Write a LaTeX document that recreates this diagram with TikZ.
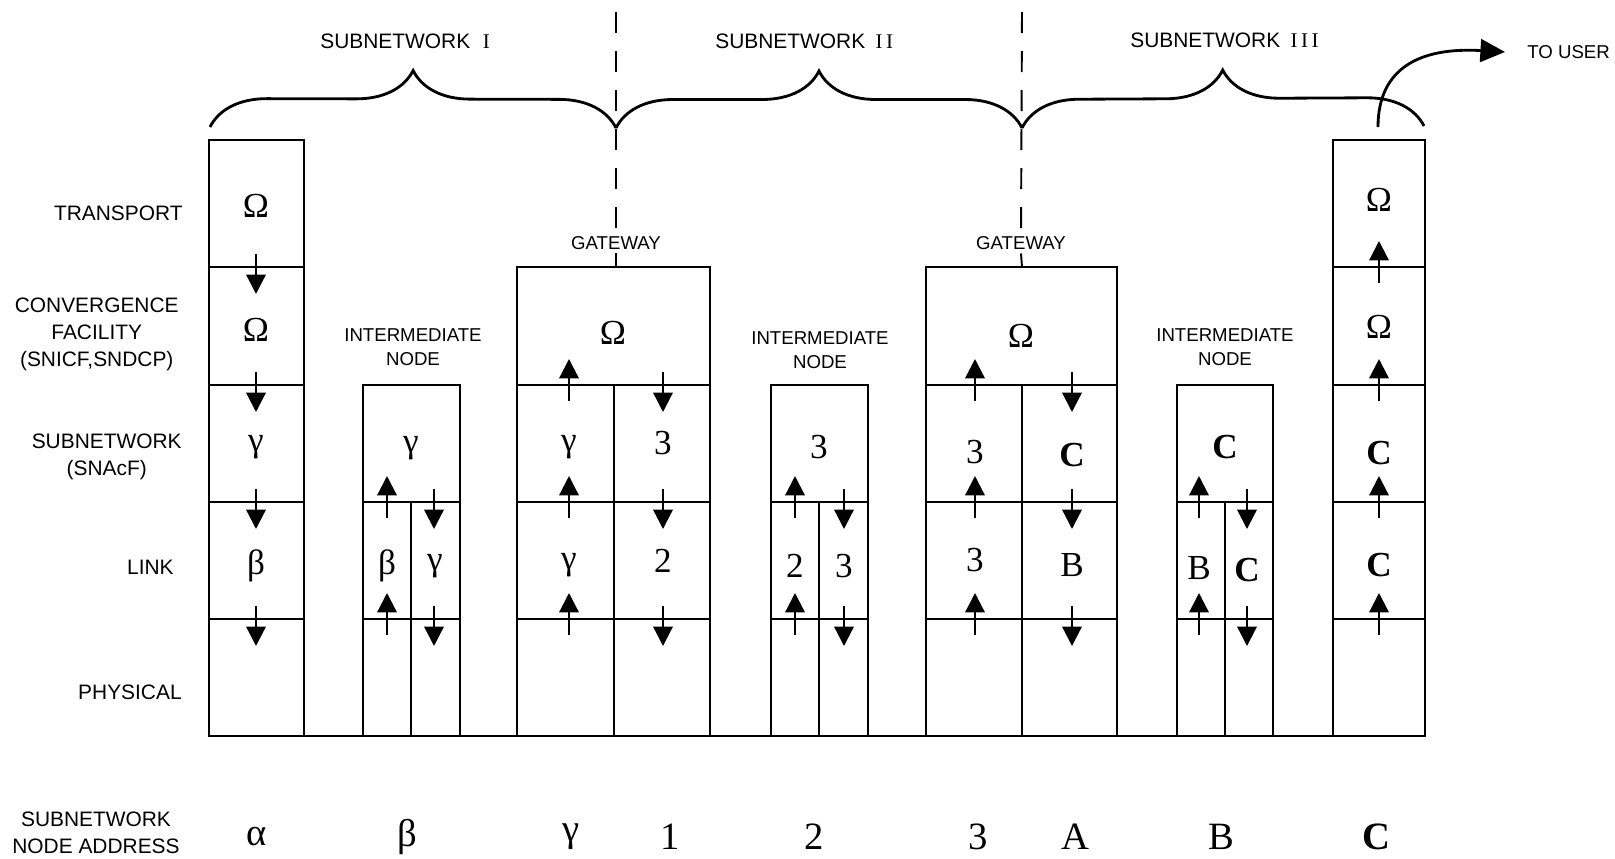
\documentclass[tikz,border=0pt]{standalone}
\usepackage{fontspec}
\setmainfont{Liberation Serif}
\setsansfont{Liberation Sans}
\usepackage{tikz}
\usetikzlibrary{arrows.meta, decorations.pathreplacing, positioning}

\begin{document}
\begin{tikzpicture}[x=0.2mm, y=-0.2mm,
    box/.style={line width=1.6pt},
    sym/.style={font=\fontsize{20}{24}\selectfont},
    addr/.style={font=\fontsize{22}{26}\selectfont},
    lyr/.style={font=\sffamily\fontsize{11.9}{15.3}\selectfont, align=center, anchor=east, inner sep=0pt},
    tag/.style={font=\sffamily\fontsize{10.6}{13.6}\selectfont, align=center, inner sep=0pt},
    arr/.style={line width=1.3pt, -{Triangle[length=11pt, width=11pt]}},
    brc/.style={line width=1.6pt, decorate, decoration={brace, amplitude=11.4mm}},
    sep/.style={line width=1.1pt, dash pattern=on 4.2mm off 3.6mm}]
  \useasboundingbox (0,0) rectangle (1615,858);

  \node[lyr] (lTr) at (183,213) {TRANSPORT};
  \node[lyr] (lCf) at (179,334) {CONVERGENCE\\FACILITY\\(SNICF,SNDCP)};
  \node[lyr] (lSn) at (182,457) {SUBNETWORK\\(SNAcF)};
  \node[lyr] (lLk) at (174,567) {LINK};
  \node[lyr] (lPh) at (182,692) {PHYSICAL};
  \node[lyr, anchor=center] (lAd) at (96,833) {SUBNETWORK\\NODE ADDRESS};

  \node[lyr, anchor=west] (sn1) at (320,41) {SUBNETWORK\hspace{0.6em}{\rmfamily I}};
  \node[lyr, anchor=west] (sn2) at (715,41) {SUBNETWORK\hspace{0.5em}{\rmfamily I\,I}};
  \node[lyr, anchor=west] (sn3) at (1130,40) {SUBNETWORK\hspace{0.5em}{\rmfamily I\,I\,I}};

  \coordinate (b0) at (210,127);
  \coordinate (b1) at (616,128);
  \coordinate (b2) at (1022,128);
  \coordinate (b3) at (1424,126);
  \draw[brc] (b0) -- (b1);
  \draw[brc] (b1) -- (b2);
  \draw[brc] (b2) -- (b3);

  \node[tag, inner sep=2pt] (gw1) at (616,243) {GATEWAY};
  \node[tag, inner sep=2pt] (gw2) at (1021,243) {GATEWAY};
  \coordinate (d1) at (616,12);
  \coordinate (d2) at (1022,12);
  \coordinate (g1) at (616,267);
  \coordinate (g2) at (1022,267);
  \draw[sep] (d1) -- (gw1.north);
  \draw[sep] (d2) -- (gw2.north);
  \draw[line width=1.1pt] (gw1.south) -- (g1);
  \draw[line width=1.1pt] (gw2.south) -- (g2);

  \node[tag] (in1) at (413,347) {INTERMEDIATE\\NODE};
  \node[tag] (in2) at (820,350) {INTERMEDIATE\\NODE};
  \node[tag] (in3) at (1225,347) {INTERMEDIATE\\NODE};

  \node[tag, anchor=west] (usr) at (1527,52) {TO USER};
  \coordinate (cu) at (1378,127);
  \draw[line width=1.6pt, -{Triangle[length=14pt, width=13pt]}] (cu) .. controls (1378,68) and (1420,47) .. ([xshift=-4.4mm]usr.west);

  \draw[box] (209,736) -- (1425,736);

  \draw[box] (209,140) rectangle (304,736);
  \draw[box] (209,267) -- (304,267) (209,385) -- (304,385) (209,502) -- (304,502) (209,619) -- (304,619);
  \node[sym] (aTr) at (256,206) {Ω};
  \node[sym] (aCf) at (256,330) {Ω};
  \node[sym] (aSn) at (256,447) {γ};
  \node[sym] (aLk) at (256,566) {β};
  \draw[arr] (256,254) -- (256,294);
  \draw[arr] (256,372) -- (256,412);
  \draw[arr] (256,489) -- (256,529);
  \draw[arr] (256,606) -- (256,646);

  \draw[box] (363,385) rectangle (460,736);
  \draw[box] (363,502) -- (460,502) (363,619) -- (460,619) (411,502) -- (411,736);
  \node[sym] (bSn) at (411,448) {γ};
  \node[sym] (bLk1) at (387,566) {β};
  \node[sym] (bLk2) at (435,566) {γ};
  \draw[arr] (387,518) -- (387,476);
  \draw[arr] (387,635) -- (387,593);
  \draw[arr] (434,489) -- (434,529);
  \draw[arr] (434,606) -- (434,646);

  \draw[box] (517,267) rectangle (710,736);
  \draw[box] (517,385) -- (710,385) (517,502) -- (710,502) (517,619) -- (710,619) (614,385) -- (614,736);
  \node[sym] (gCf) at (613,333) {Ω};
  \node[sym] (gSn1) at (569,447) {γ};
  \node[sym] (gSn2) at (663,443) {3};
  \node[sym] (gLk1) at (569,565) {γ};
  \node[sym] (gLk2) at (663,561) {2};
  \draw[arr] (569,401) -- (569,359);
  \draw[arr] (569,518) -- (569,476);
  \draw[arr] (569,635) -- (569,593);
  \draw[arr] (663,372) -- (663,412);
  \draw[arr] (663,489) -- (663,529);
  \draw[arr] (663,606) -- (663,646);

  \draw[box] (771,385) rectangle (868,736);
  \draw[box] (771,502) -- (868,502) (771,619) -- (868,619) (819,502) -- (819,736);
  \node[sym] (tSn) at (819,447) {3};
  \node[sym] (tLk1) at (795,566) {2};
  \node[sym] (tLk2) at (844,566) {3};
  \draw[arr] (795,518) -- (795,476);
  \draw[arr] (795,635) -- (795,593);
  \draw[arr] (844,489) -- (844,529);
  \draw[arr] (844,606) -- (844,646);

  \draw[box] (926,267) rectangle (1117,736);
  \draw[box] (926,385) -- (1117,385) (926,502) -- (1117,502) (926,619) -- (1117,619) (1022,385) -- (1022,736);
  \node[sym] (hCf) at (1021,336) {Ω};
  \node[sym] (hSn1) at (975,452) {3};
  \node[sym] (hSn2) at (1072,455) {\textbf{C}};
  \node[sym] (hLk1) at (975,560) {3};
  \node[sym] (hLk2) at (1072,565) {B};
  \draw[arr] (975,401) -- (975,359);
  \draw[arr] (975,518) -- (975,476);
  \draw[arr] (975,635) -- (975,593);
  \draw[arr] (1072,372) -- (1072,412);
  \draw[arr] (1072,489) -- (1072,529);
  \draw[arr] (1072,606) -- (1072,646);

  \draw[box] (1177,385) rectangle (1273,736);
  \draw[box] (1177,502) -- (1273,502) (1177,619) -- (1273,619) (1225,502) -- (1225,736);
  \node[sym] (kSn) at (1225,447) {\textbf{C}};
  \node[sym] (kLk1) at (1199,568) {B};
  \node[sym] (kLk2) at (1247,570) {\textbf{C}};
  \draw[arr] (1199,518) -- (1199,476);
  \draw[arr] (1199,635) -- (1199,593);
  \draw[arr] (1247,489) -- (1247,529);
  \draw[arr] (1247,606) -- (1247,646);

  \draw[box] (1333,140) rectangle (1425,736);
  \draw[box] (1333,267) -- (1425,267) (1333,385) -- (1425,385) (1333,502) -- (1425,502) (1333,619) -- (1425,619);
  \node[sym] (cTr) at (1379,200) {Ω};
  \node[sym] (cCf) at (1379,327) {Ω};
  \node[sym] (cSn) at (1379,453) {\textbf{C}};
  \node[sym] (cLk) at (1379,565) {\textbf{C}};
  \draw[arr] (1379,283) -- (1379,241);
  \draw[arr] (1379,401) -- (1379,359);
  \draw[arr] (1379,518) -- (1379,476);
  \draw[arr] (1379,635) -- (1379,593);

  \node[addr] (adAl) at (257,837) {α};
  \node[addr] (adBe) at (407,837) {β};
  \node[addr] (adGa) at (571,837) {γ};
  \node[addr] (ad1) at (670,837) {1};
  \node[addr] (ad2) at (814,837) {2};
  \node[addr] (ad3) at (978,837) {3};
  \node[addr] (adA) at (1075,837) {A};
  \node[addr] (adB) at (1221,837) {B};
  \node[addr] (adC) at (1376,837) {\textbf{C}};
\end{tikzpicture}
\end{document}
